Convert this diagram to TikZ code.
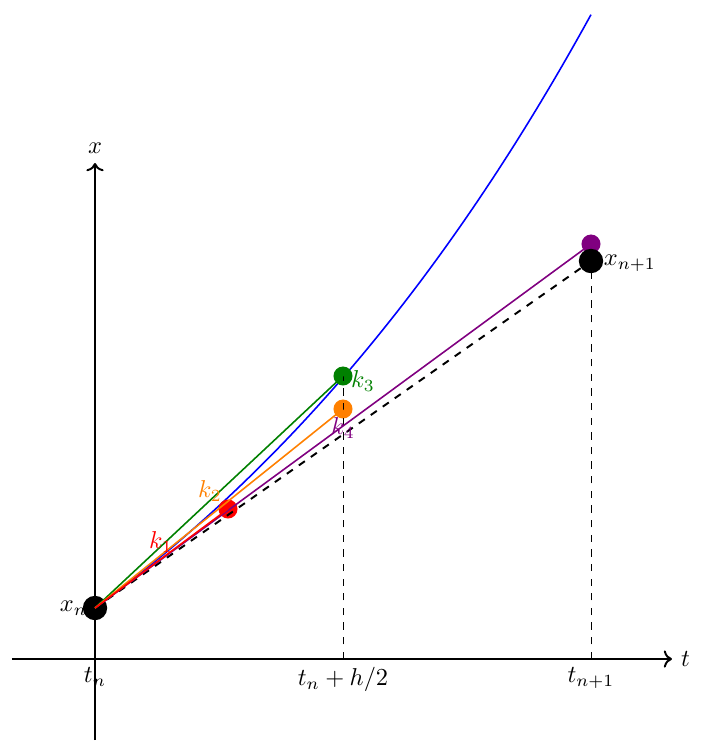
\documentclass[tikz,border=0pt]{standalone}
\usetikzlibrary{arrows.meta}
\definecolor{rkorange}{RGB}{255,128,0}
\definecolor{rkgreen}{RGB}{0,128,0}
\definecolor{rkpurple}{RGB}{128,0,128}
\begin{document}
\begin{tikzpicture}[x=0.41pt,y=-0.41pt,
  axis/.style={line width=0.8pt,->},
  guide/.style={dashed,line width=0.4pt},
  bigdot/.style={circle,fill=black,inner sep=0pt,minimum size=10pt},
  stagedot/.style={circle,inner sep=0pt,minimum size=7.8pt},
  stage/.style={line width=0.65pt},
  lbl/.style={inner sep=1pt}]
\useasboundingbox (0,0) rectangle (708,749);
% axes
\coordinate (tL) at (12,659);
\coordinate (tR) at (672,659);
\coordinate (xB) at (95,740);
\coordinate (xT) at (95,163);
\coordinate (O) at (95,659);
\coordinate (Th) at (343,659);
\coordinate (T1) at (591,659);
\draw[axis] (tL) -- (tR) node[right] {$t$};
\draw[axis] (xB) -- (xT) node[above] {$x$};
\node[below] at (O) {$t_n$};
\node[below] at (Th) {$t_n+h/2$};
\node[below] at (T1) {$t_{n+1}$};
% exact solution
\draw[blue,line width=0.65pt] plot[domain=0:496,samples=80] ({95+\x},{608-401*(exp(0.001834*\x)-1)});
% points
\node[lbl,anchor=east] at (90,608) {$x_n$};
\node[bigdot] (xn) at (95,608) {};
\node[stagedot,fill=red] (k1) at (228,509) {};
\node[stagedot,fill=rkorange] (k4p) at (343,409) {};
\node[stagedot,fill=rkgreen] (k3p) at (343,376) {};
\node[stagedot,fill=rkpurple] (pp) at (591,244) {};
\node[bigdot] (xn1) at (591,261) {};
\node[lbl,anchor=west] at (601,263) {$x_{n+1}$};
% guides
\draw[guide] (Th) -- (k3p.center);
\draw[guide] (T1) -- (xn1.center);
% stages
\draw[black,dashed,line width=0.8pt] (xn.center) -- (xn1.center);
\draw[stage,rkpurple] (xn.center) -- (pp.center);
\draw[stage,rkgreen] (xn.center) -- (k3p.center);
\draw[stage,rkorange] (xn.center) -- (k4p.center);
\draw[stage,red] (xn.center) -- (k1.center);
% labels
\node[red] at (161,542) {$k_1$};
\node[rkorange] at (210,491) {$k_2$};
\node[rkgreen] at (363,381) {$k_3$};
\node[rkpurple] at (343,428) {$k_4$};
\end{tikzpicture}
\end{document}
